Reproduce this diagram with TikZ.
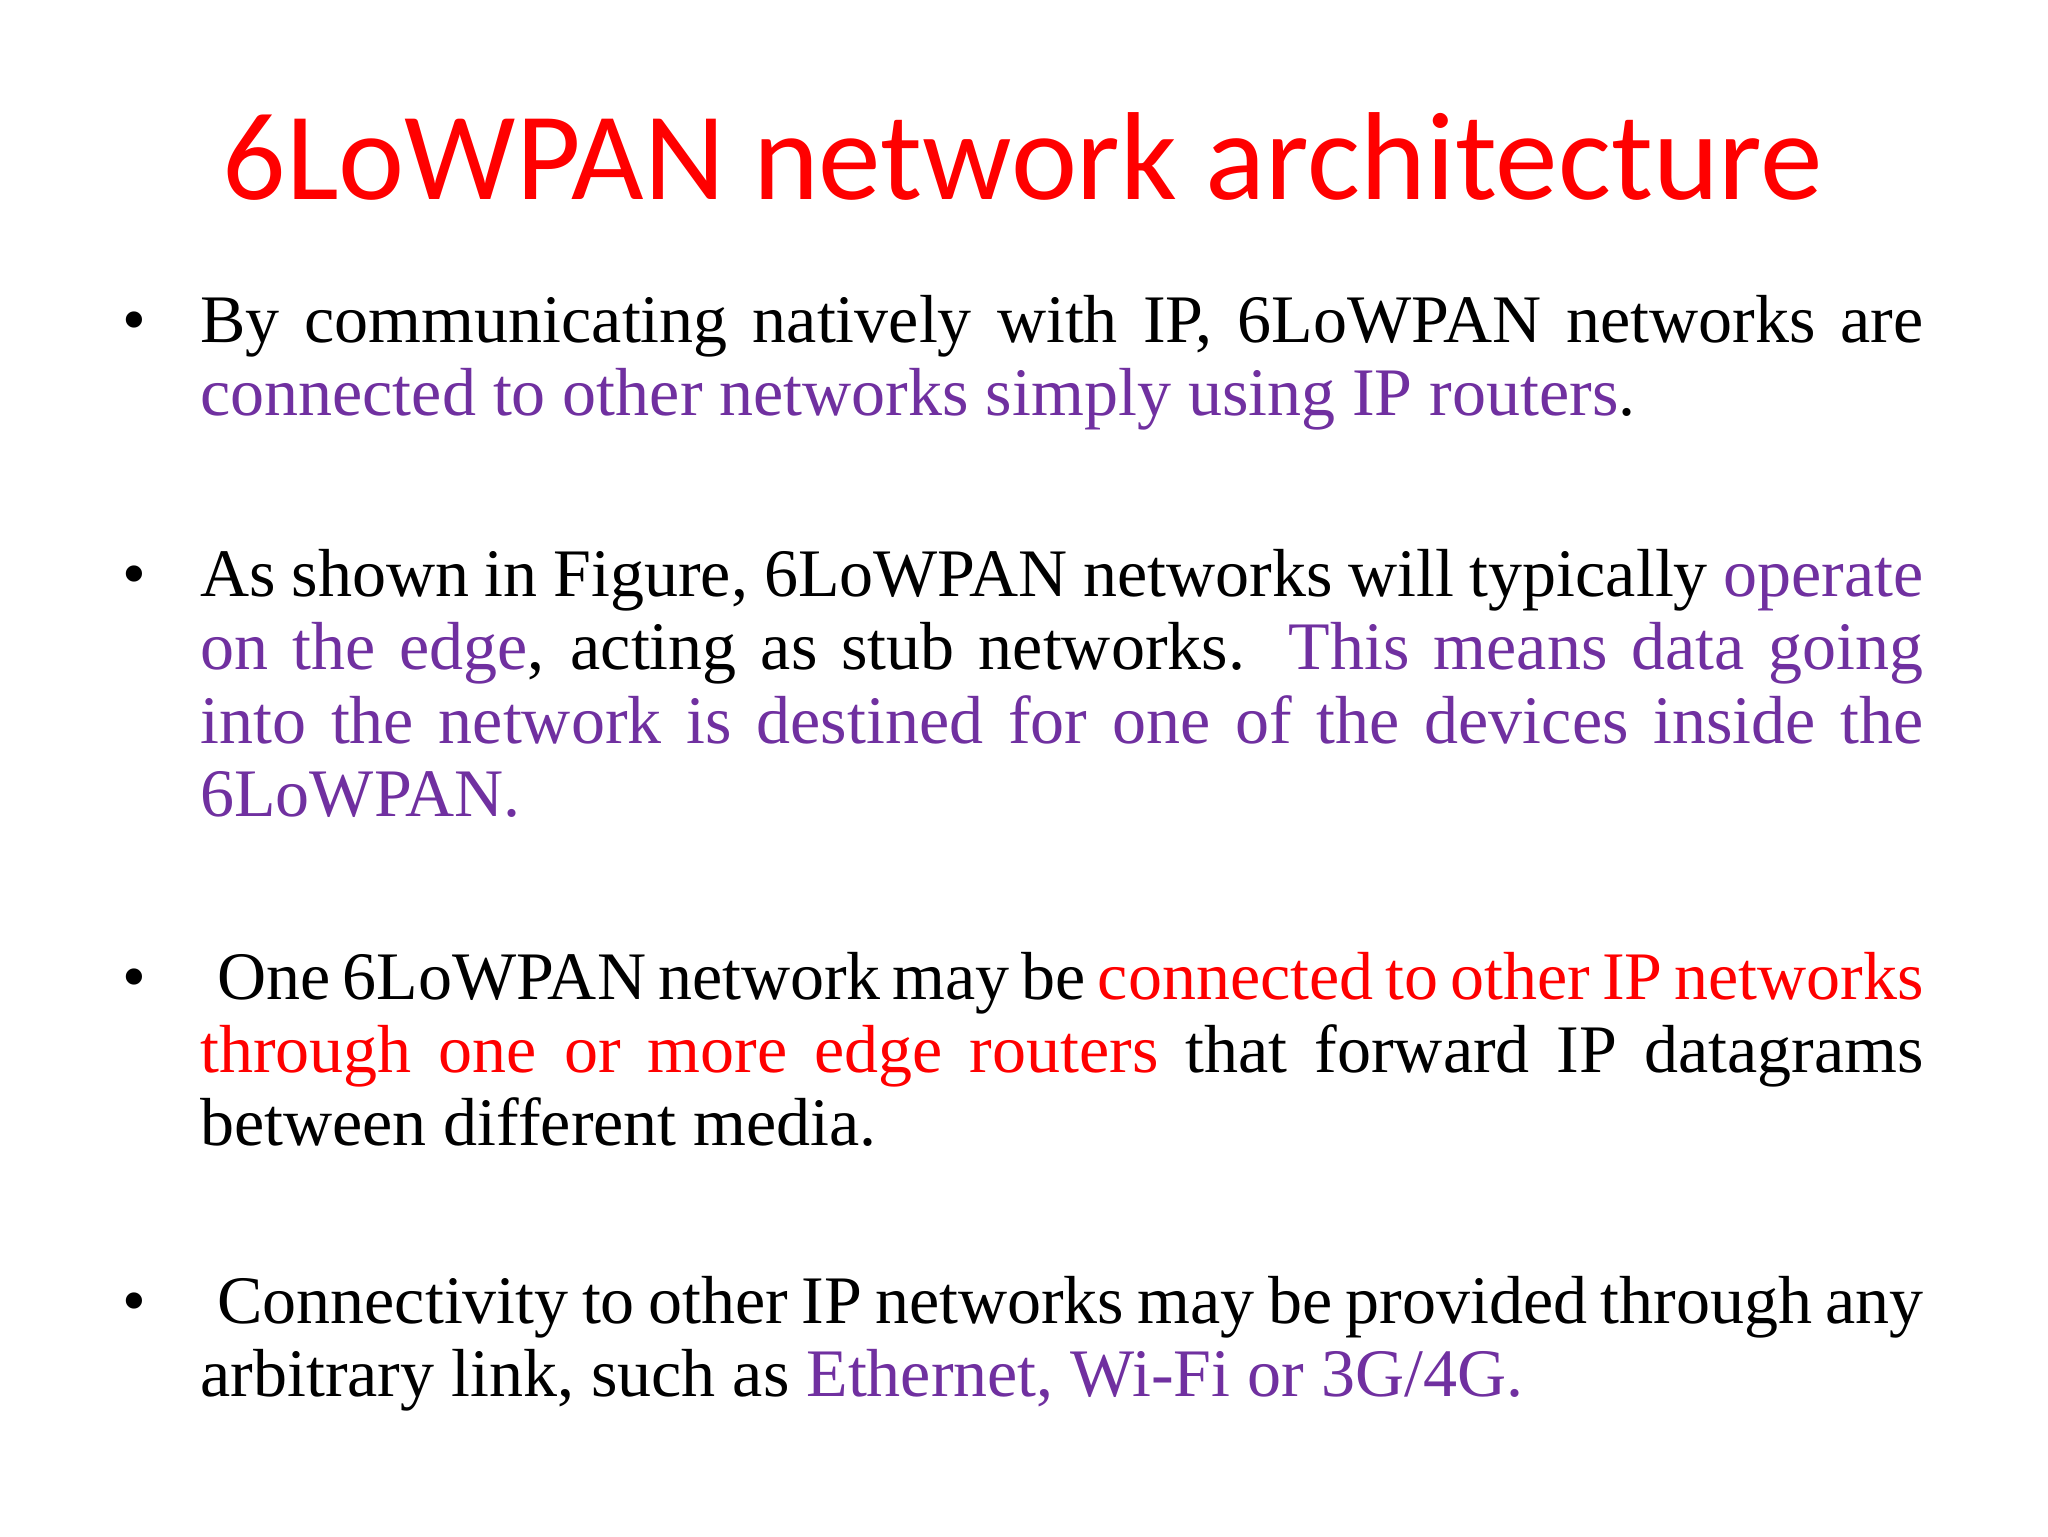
\documentclass[tikz,border=0pt]{standalone}
\usepackage{fontspec}
\setmainfont{Liberation Serif}
\newfontfamily\titlefont{Carlito}
\definecolor{pur}{HTML}{7030A0}
\definecolor{tred}{HTML}{FF0000}
\newcommand{\nohyph}{\hyphenpenalty=10000 \exhyphenpenalty=10000 \relax}
\begin{document}
\begin{tikzpicture}[x=0.0162cm,y=-0.0162cm,
  para/.style={anchor=base west,inner sep=0pt,text width=21.38cm,align=justify,font=\fontsize{24}{25.8}\selectfont,execute at begin node=\nohyph},
  bul/.style={anchor=base,inner sep=0pt,font=\fontsize{24}{25.8}\selectfont}]
\useasboundingbox[fill=white] (0,0) rectangle (1568,1176);
\node[anchor=base,inner sep=0pt,text=tred,font=\titlefont\fontsize{44.2}{50}\selectfont] (title) at (783,153) {6LoWPAN network architecture};
\node[bul] (b1) at (103,262) {•};
\node[para] (p1) at (153,262) {By communicating natively with IP, 6LoWPAN networks are \textcolor{pur}{connected to other networks simply using IP routers}.};
\node[bul] (b2) at (103,457) {•};
\node[para] (p2) at (153,457) {As shown in Figure, 6LoWPAN networks will typically \textcolor{pur}{operate on the edge}, acting as stub networks. \textcolor{pur}{This means data going into the network is destined for one of the devices inside the 6LoWPAN.}};
\node[bul] (b3) at (103,765) {•};
\node[para] (p3) at (153,765) {\hspace{0.25em}One 6LoWPAN network may be \textcolor{tred}{connected to other IP networks through one or more edge routers} that forward IP datagrams between different media.};
\node[bul] (b4) at (103,1013) {•};
\node[para] (p4) at (153,1013) {\hspace{0.25em}Connectivity to other IP networks may be provided through any arbitrary link, such as \textcolor{pur}{Ethernet, Wi-Fi or 3G/4G.}};
\end{tikzpicture}
\end{document}
